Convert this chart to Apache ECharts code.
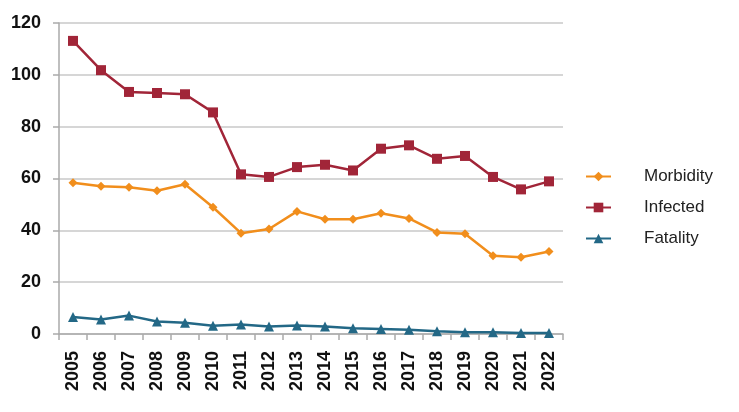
<!DOCTYPE html>
<html>
<head>
<meta charset="utf-8">
<script src="https://cdn.jsdelivr.net/npm/echarts@6/dist/echarts.min.js"></script>
<style>
html,body{margin:0;padding:0;background:#fff;}
#chart{width:739px;height:412px;}
</style>
</head>
<body>
<div id="chart"></div>
<script>
var years = ['2005','2006','2007','2008','2009','2010','2011','2012','2013','2014','2015','2016','2017','2018','2019','2020','2021','2022'];
var morbidity = [58.4,57.0,56.6,55.3,57.8,48.9,38.9,40.5,47.3,44.3,44.3,46.6,44.6,39.2,38.7,30.2,29.6,31.8];
var infected = [113.1,101.8,93.4,93.0,92.5,85.5,61.6,60.6,64.4,65.3,63.1,71.5,72.8,67.6,68.7,60.6,55.8,58.9];
var fatality = [6.6,5.6,7.1,4.8,4.3,3.2,3.7,2.9,3.3,2.9,2.2,1.9,1.6,1.1,0.7,0.7,0.4,0.4];

var chart = echarts.init(document.getElementById('chart'));

function lineSeries(name, data, symbol, size, color){
    return {
        name: name,
        type: 'line',
        data: data,
        symbol: symbol,
        symbolSize: size,
        lineStyle: {width: 2.5, color: color},
        itemStyle: {color: color},
        animation: false
    };
}

var option = {
    backgroundColor: '#fff',
    grid: {left: 59, right: 176, top: 23, bottom: 78},
    legend: {
        orient: 'vertical',
        left: 580,
        top: 163,
        itemGap: 14,
        itemWidth: 25,
        itemHeight: 12,
        textStyle: {fontSize: 17, color: '#222', fontFamily: 'Liberation Sans', padding: [0,0,0,28]},
        data: ['Morbidity','Infected','Fatality']
    },
    xAxis: {
        type: 'category',
        data: years,
        boundaryGap: true,
        axisLine: {lineStyle: {color: '#aaa', width: 1.5}},
        axisTick: {show: true, length: 6, lineStyle: {color: '#aaa', width: 1.5}},
        axisLabel: {rotate: 90, interval: 0, color: '#111', fontWeight: 'bold', fontSize: 18, fontFamily: 'Liberation Sans', margin: 17}
    },
    yAxis: {
        type: 'value',
        min: 0,
        max: 120,
        interval: 20,
        axisLine: {show: true, lineStyle: {color: '#aaa', width: 1.5}},
        axisTick: {show: true, length: 6, lineStyle: {color: '#aaa', width: 1.5}},
        splitLine: {lineStyle: {color: '#c8c8c8', width: 1.5}},
        axisLabel: {color: '#111', fontWeight: 'bold', fontSize: 18, fontFamily: 'Liberation Sans', margin: 18}
    },
    series: [
        lineSeries('Morbidity', morbidity, 'diamond', 9, '#F18E1C'),
        lineSeries('Infected', infected, 'rect', 10, '#A12538'),
        lineSeries('Fatality', fatality, 'triangle', 10, '#236886')
    ]
};

chart.setOption(option);
</script>
</body>
</html>
